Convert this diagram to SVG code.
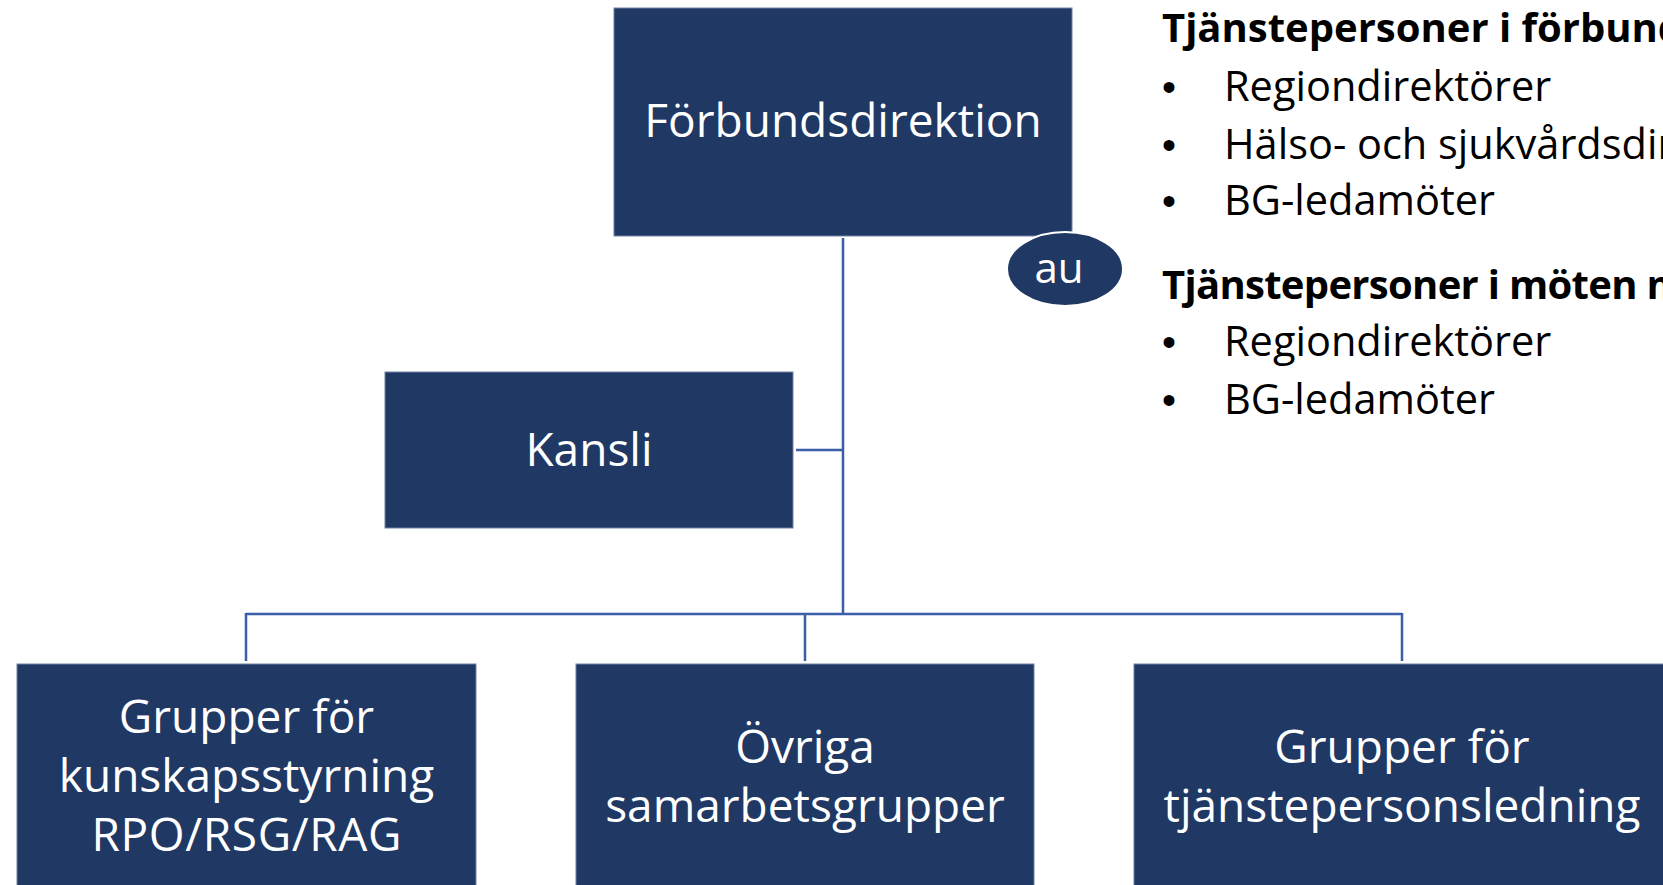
<svg xmlns="http://www.w3.org/2000/svg" width="1663" height="885" viewBox="0 0 1663 885">
  <style>
    .box { fill: #203864; stroke: #6f82a3; stroke-width: 1; }
    .bt { font-family: "Open Sans", "Noto Sans", sans-serif; font-size: 46px; fill: #ffffff; text-anchor: middle; }
    .au { font-family: "Open Sans", "Noto Sans", sans-serif; font-size: 42px; fill: #ffffff; text-anchor: middle; }
    .conn { stroke: #3b5ea8; stroke-width: 2.5; fill: none; }
    .hd { font-family: "Open Sans", "Noto Sans", sans-serif; font-size: 40px; font-weight: bold; fill: #000000; }
    .li { font-family: "Open Sans", "Noto Sans", sans-serif; font-size: 41.5px; fill: #000000; }
    .bu { font-family: "Liberation Sans", Arial, sans-serif; font-size: 40px; fill: #000000; }
  </style>
  <rect width="1663" height="885" fill="#ffffff"/>

  <g id="connectors">
    <line class="conn" x1="843" y1="238" x2="843" y2="615"/>
    <line class="conn" x1="796" y1="450" x2="843" y2="450"/>
    <line class="conn" x1="246" y1="614" x2="1402" y2="614"/>
    <line class="conn" x1="246" y1="613" x2="246" y2="661"/>
    <line class="conn" x1="805" y1="613" x2="805" y2="661"/>
    <line class="conn" x1="1402" y1="613" x2="1402" y2="661"/>
  </g>

  <g id="forbundsdirektion">
    <rect class="box" x="614" y="8" width="458" height="228"/>
    <text class="bt" x="843" y="137">Förbundsdirektion</text>
  </g>

  <g id="au">
    <ellipse cx="1065" cy="269" rx="58" ry="37" fill="#203864" stroke="#ffffff" stroke-width="2"/>
    <text class="au" x="1059" y="283">au</text>
  </g>

  <g id="kansli">
    <rect class="box" x="385" y="372" width="408" height="156"/>
    <text class="bt" x="589" y="466">Kansli</text>
  </g>

  <g id="kunskapsstyrning">
    <rect class="box" x="17" y="664" width="459" height="230"/>
    <text class="bt" x="246.5" y="733">Grupper för</text>
    <text class="bt" x="246.5" y="792">kunskapsstyrning</text>
    <text class="bt" x="246.5" y="851" textLength="310" lengthAdjust="spacing">RPO/RSG/RAG</text>
  </g>

  <g id="samarbetsgrupper">
    <rect class="box" x="576" y="664" width="458" height="230"/>
    <text class="bt" x="805" y="763">Övriga</text>
    <text class="bt" x="805" y="822">samarbetsgrupper</text>
  </g>

  <g id="tjanstepersonsledning">
    <rect class="box" x="1134" y="664" width="540" height="230"/>
    <text class="bt" x="1402" y="763">Grupper för</text>
    <text class="bt" x="1402" y="822">tjänstepersonsledning</text>
  </g>

  <g id="legend">
    <text class="hd" x="1162" y="42">Tjänstepersoner i förbundsdirektion</text>
    <text class="bu" x="1162" y="101">•</text>
    <text class="li" x="1224" y="101">Regiondirektörer</text>
    <text class="bu" x="1162" y="159">•</text>
    <text class="li" x="1224" y="159">Hälso- och sjukvårdsdirektörer</text>
    <text class="bu" x="1162" y="215">•</text>
    <text class="li" x="1224" y="215">BG-ledamöter</text>
    <text class="hd" x="1162" y="299" letter-spacing="-0.7">Tjänstepersoner i möten med au</text>
    <text class="bu" x="1162" y="356">•</text>
    <text class="li" x="1224" y="356">Regiondirektörer</text>
    <text class="bu" x="1162" y="414">•</text>
    <text class="li" x="1224" y="414">BG-ledamöter</text>
  </g>
</svg>
